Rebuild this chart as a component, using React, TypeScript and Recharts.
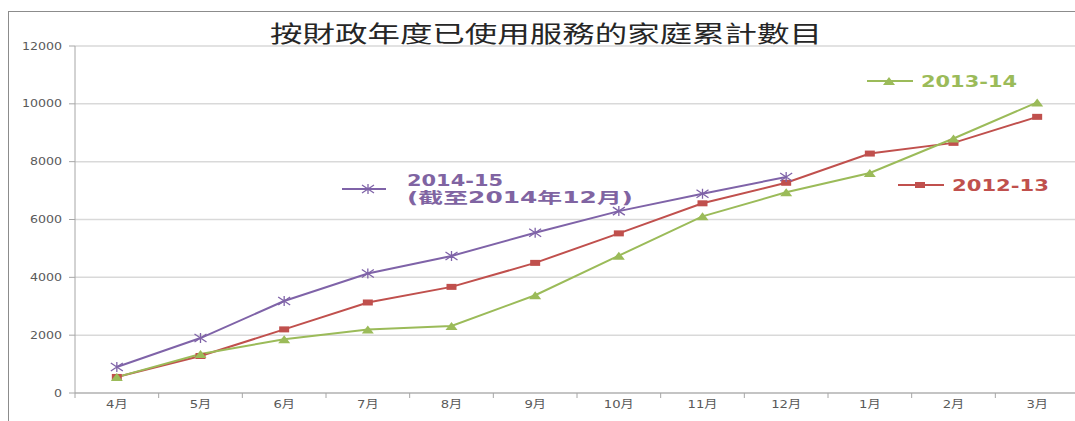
import React from "react"
import { LineChart, Line, XAxis, YAxis, CartesianGrid } from "recharts"

const title = "按財政年度已使用服務的家庭累計數目"
const months = ["4月", "5月", "6月", "7月", "8月", "9月", "10月", "11月", "12月", "1月", "2月", "3月"]
const fy1213 = [555, 1280, 2200, 3130, 3670, 4500, 5520, 6560, 7270, 8280, 8650, 9550]
const fy1314 = [550, 1350, 1860, 2200, 2320, 3380, 4750, 6110, 6940, 7610, 8800, 10050]
const fy1415 = [900, 1900, 3180, 4130, 4740, 5540, 6290, 6890, 7470]
const yTicks = [0, 2000, 4000, 6000, 8000, 10000, 12000]

const RED = "#C0504D"
const GREEN = "#9BBB59"
const PURPLE = "#7F63A8"
const AXIS = "#A6A6A6"
const FONT = "'DejaVu Sans', 'Noto Sans CJK TC', sans-serif"

const data = months.map((m, i) => ({
  month: m,
  a: fy1213[i],
  b: fy1314[i],
  c: i < fy1415.length ? fy1415[i] : null,
}))

// chart box (wider than the page, the right edge is cut off like the source)
const W = 1090
const H = 421
const margin = { top: 46, right: 11, bottom: 0, left: 0 }
const YW = 75
const XH = 28
const halfBand = (W - margin.left - margin.right - YW) / months.length / 2

const square = (cx: number, cy: number, c: string) => <rect x={cx - 5} y={cy - 3} width={10} height={6} fill={c} />
const triangle = (cx: number, cy: number, c: string) => (
  <path d={`M${cx - 6},${cy + 4}L${cx + 6},${cy + 4}L${cx},${cy - 4}Z`} fill={c} />
)
const star = (cx: number, cy: number, c: string) => (
  <path
    d={`M${cx - 6},${cy - 4}L${cx + 6},${cy + 4}M${cx - 6},${cy + 4}L${cx + 6},${cy - 4}M${cx},${cy - 5}L${cx},${cy + 5}`}
    stroke={c}
    strokeWidth={1.3}
    fill="none"
  />
)

function makeDot(shape: (cx: number, cy: number, c: string) => React.ReactElement, color: string) {
  return (props: any) => {
    const { cx, cy, index } = props
    if (cx == null || cy == null || props.value == null) return <g key={`e-${index}`} />
    return <g key={`d-${index}`}>{shape(cx, cy, color)}</g>
  }
}

function XTick(props: any) {
  const { x, y, payload } = props
  return (
    <g>
      <line x1={x - halfBand} x2={x - halfBand} y1={y} y2={y + 5} stroke={AXIS} />
      <text
        transform={`translate(${x},${y + 15}) scale(1.2,1)`}
        textAnchor="middle"
        fontSize={11}
        fill="#595959"
        fontFamily={FONT}
      >
        {payload.value}
      </text>
    </g>
  )
}

function YTick(props: any) {
  const { x, y, payload } = props
  return (
    <g>
      <line x1={x - 6} x2={x} y1={y} y2={y} stroke={AXIS} />
      <text
        transform={`translate(${x - 13},${y + 3.5}) scale(1.26,1)`}
        textAnchor="end"
        fontSize={10}
        fill="#595959"
        fontFamily={FONT}
      >
        {payload.value}
      </text>
    </g>
  )
}

export default function App() {
  return (
    <div style={{ position: "absolute", left: 0, top: 0, width: 1075, height: 421, overflow: "hidden", background: "#fff" }}>
      <div style={{ position: "absolute", left: 8, top: 11, width: 1200, height: 500, border: "1px solid #8C8C8C" }} />
      <div style={{ position: "absolute", left: 0, top: 0 }}>
        <LineChart width={W} height={H} data={data} margin={margin}>
          <CartesianGrid vertical={false} stroke="#D9D9D9" strokeWidth={1.5} />
          <XAxis
            dataKey="month"
            height={XH}
            stroke={AXIS}
            tickSize={0}
            tickMargin={0}
            tick={<XTick />}
            interval={0}
            padding={{ left: halfBand, right: halfBand }}
          />
          <YAxis
            width={YW}
            domain={[0, 12000]}
            ticks={yTicks}
            interval={0}
            stroke={AXIS}
            tickSize={0}
            tickMargin={0}
            tick={<YTick />}
          />
          <Line dataKey="a" stroke={RED} strokeWidth={2} dot={makeDot(square, RED)} isAnimationActive={false} />
          <Line dataKey="b" stroke={GREEN} strokeWidth={2} dot={makeDot(triangle, GREEN)} isAnimationActive={false} />
          <Line dataKey="c" stroke={PURPLE} strokeWidth={2} dot={makeDot(star, PURPLE)} isAnimationActive={false} />
        </LineChart>
      </div>
      <svg width={1075} height={421} style={{ position: "absolute", left: 0, top: 0, pointerEvents: "none" }}>
        <text x={270} y={42} fontSize={23} fill="#262626" fontFamily="'Noto Sans CJK TC', sans-serif" textLength={552} lengthAdjust="spacingAndGlyphs">
          {title}
        </text>

        <line x1={342} x2={386} y1={189} y2={189} stroke={PURPLE} strokeWidth={2} />
        {star(368, 189, PURPLE)}
        <text x={407} y={186} fontSize={15} fontWeight="bold" fill="#8064A2" fontFamily={FONT} textLength={96} lengthAdjust="spacingAndGlyphs">
          2014-15
        </text>
        <text x={407} y={203} fontSize={15} fontWeight="bold" fill="#8064A2" fontFamily={FONT} textLength={226} lengthAdjust="spacingAndGlyphs">
          (截至2014年12月)
        </text>

        <line x1={867} x2={913} y1={81} y2={81} stroke={GREEN} strokeWidth={2} />
        {triangle(889, 81, GREEN)}
        <text x={921} y={87} fontSize={16} fontWeight="bold" fill={GREEN} fontFamily={FONT} textLength={96} lengthAdjust="spacingAndGlyphs">
          2013-14
        </text>

        <line x1={898} x2={944} y1={185} y2={185} stroke={RED} strokeWidth={2} />
        {square(920, 185, RED)}
        <text x={952} y={191} fontSize={16} fontWeight="bold" fill={RED} fontFamily={FONT} textLength={97} lengthAdjust="spacingAndGlyphs">
          2012-13
        </text>
      </svg>
    </div>
  )
}
